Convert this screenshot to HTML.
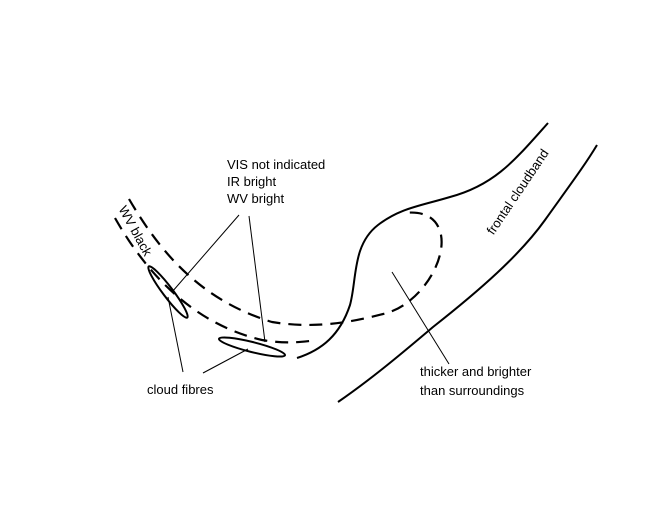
<!DOCTYPE html>
<html><head><style>html,body{margin:0;padding:0;background:#fff}</style></head><body>
<svg width="650" height="524" viewBox="0 0 650 524" xmlns="http://www.w3.org/2000/svg" font-family="Liberation Sans, Arial, sans-serif" font-size="13">
<rect width="650" height="524" fill="#fff"/>
<g fill="none" stroke="#000">
<path d="M129,199 C160,252 200,300 272,322 C320,330 360,320 387,313 C420,303 446,262 441,235 C437,215 420,211 405,213" stroke-width="2.2" stroke-dasharray="13,8"/>
<path d="M115,218 C140,262 185,322 262,340 C285,344 300,342 310,341" stroke-width="2.2" stroke-dasharray="13,8"/>
<path d="M297,358 C322,350 340,335 350,305 C357,280 352,245 378,225 C400,208 420,206 450,197 C495,185 515,160 548,123" stroke-width="2"/>
<path d="M338,402 C370,380 400,355 433,327 C480,290 520,255 545,220 C570,185 585,165 597,145" stroke-width="2"/>
<ellipse cx="168" cy="292" rx="32" ry="5" transform="rotate(53 168 292)" stroke-width="2"/>
<ellipse cx="252" cy="347" rx="34" ry="5" transform="rotate(14 252 347)" stroke-width="2"/>
<g stroke-width="1">
<line x1="239" y1="215" x2="172" y2="292"/>
<line x1="249" y1="216" x2="265" y2="342"/>
<line x1="183" y1="372" x2="168" y2="297"/>
<line x1="203" y1="373" x2="248" y2="349"/>
<line x1="392" y1="272" x2="449" y2="364"/>
</g>
</g>
<g fill="#000">
<text x="227" y="169">VIS not indicated</text>
<text x="227" y="186">IR bright</text>
<text x="227" y="203">WV bright</text>
<text x="147" y="394">cloud fibres</text>
<text x="420" y="376">thicker and brighter</text>
<text x="420" y="395">than surroundings</text>
<text transform="translate(518,192) rotate(-56)" text-anchor="middle" dy="4">frontal cloudband</text>
<text transform="translate(135,231) rotate(61)" text-anchor="middle" dy="4">WV black</text>
</g>
</svg>
</body></html>
